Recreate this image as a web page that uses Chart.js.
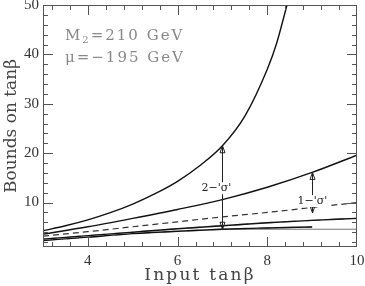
<!DOCTYPE html>
<html>
<head>
<meta charset="utf-8">
<script src="https://cdn.jsdelivr.net/npm/chart.js@4.4.1/dist/chart.umd.min.js"></script>
<style>
  html, body { margin: 0; padding: 0; background: #fff; }
  #wrap { width: 365px; height: 286px; }
</style>
</head>
<body>
<div id="wrap"><canvas id="boundsChart"></canvas></div>
<script>
// Data
const xInput = [3, 4, 5, 6, 7, 8, 9, 10];
const inputTanb = [3.2, 4.1, 5.1, 6.1, 7.1, 8.0, 9.0, 10.0];
const upper1 = [3.6, 5.1, 6.8, 8.6, 10.6, 13.1, 16.1, 19.6];
const lower1 = [2.6, 3.3, 4.0, 4.7, 5.3, 5.9, 6.4, 6.8];
const xUpper2 = [3, 3.5, 4, 4.5, 5, 5.5, 6, 6.5, 7, 7.5, 8, 8.2, 8.44];
const upper2 = [4.3, 5.3, 6.5, 7.95, 9.7, 11.8, 14.3, 17.5, 21.5, 27.5, 37, 42, 50];
const xLower2 = [3, 4, 5, 6, 7, 8, 9];
const lower2 = [2.3, 3.0, 3.7, 4.2, 4.6, 4.85, 5.05];
const xFloor = [7, 10];
const floorVals = [4.6, 4.6];

const xTicks = [4, 6, 8, 10];
const yTicks = [10, 20, 30, 40, 50];

// error arrows
const arrowX = [7, 9];
const arrowTop = [21.5, 16.1];
const arrowBottom = [4.6, 7.9];
const arrowLabels = ["2\u2212'\u03C3'", "1\u2212'\u03C3'"];
const arrowLabelY = [12.9, 10.3];

const pts = (xs, ys) => xs.map((x, i) => ({ x, y: ys[i] }));

function line(data, color, width, dash) {
  return {
    data, borderColor: color, borderWidth: width, borderDash: dash || [],
    pointRadius: 0, fill: false, showLine: true, cubicInterpolationMode: 'monotone'
  };
}

// Frame, inward ticks, titles and annotations
const decor = {
  id: 'decor',
  afterDatasetsDraw(chart) {
    const { ctx, chartArea: a, scales: { x, y } } = chart;
    ctx.save();
    ctx.strokeStyle = '#555';
    ctx.lineWidth = 1;
    ctx.strokeRect(a.left + 0.5, a.top + 0.5, a.right - a.left - 1, a.bottom - a.top - 1);

    ctx.beginPath();
    for (let m = 2; m <= 10; m += 2) {
      for (let k = 0; k < 5; k++) {
        const v = m + k * 0.4;
        if (v <= 3 || v >= 10) continue;
        const px = Math.round(x.getPixelForValue(v)) + 0.5;
        const len = k === 0 ? 10 : 5;
        ctx.moveTo(px, a.bottom); ctx.lineTo(px, a.bottom - len);
        ctx.moveTo(px, a.top); ctx.lineTo(px, a.top + len);
      }
    }
    for (let v = 2; v < 50; v += 2) {
      const py = Math.round(y.getPixelForValue(v)) + 0.5;
      const len = v % 10 === 0 ? 10 : 5;
      ctx.moveTo(a.left, py); ctx.lineTo(a.left + len, py);
      ctx.moveTo(a.right, py); ctx.lineTo(a.right - len, py);
    }
    ctx.stroke();

    // arrows
    ctx.strokeStyle = '#222';
    ctx.fillStyle = '#222';
    arrowX.forEach((xv, i) => {
      const px = Math.round(x.getPixelForValue(xv)) + 0.5;
      const pt = y.getPixelForValue(arrowTop[i]);
      const pb = y.getPixelForValue(arrowBottom[i]);
      ctx.beginPath();
      ctx.moveTo(px, pt); ctx.lineTo(px, pb);
      ctx.stroke();
      ctx.beginPath();
      ctx.moveTo(px, pt); ctx.lineTo(px - 2.5, pt + 7); ctx.lineTo(px + 2.5, pt + 7); ctx.closePath();
      ctx.moveTo(px, pb); ctx.lineTo(px - 2.5, pb - 7); ctx.lineTo(px + 2.5, pb - 7); ctx.closePath();
      ctx.stroke();

      ctx.font = '11px "DejaVu Serif"';
      ctx.textAlign = 'center';
      ctx.textBaseline = 'middle';
      const ly = y.getPixelForValue(arrowLabelY[i]);
      const lx = px - (i === 0 ? 6 : 0);
      const w = ctx.measureText(arrowLabels[i]).width;
      ctx.fillStyle = '#fff';
      ctx.fillRect(lx - w / 2 - 1, ly - 6, w + 2, 12);
      ctx.fillStyle = '#222';
      ctx.fillText(arrowLabels[i], lx, ly);
    });

    // parameter text
    ctx.fillStyle = '#888';
    ctx.textAlign = 'left';
    ctx.textBaseline = 'alphabetic';
    ctx.letterSpacing = '2px';
    const tx = x.getPixelForValue(3.49);
    const b1 = y.getPixelForValue(42.9);
    const b2 = y.getPixelForValue(38.5);
    ctx.font = '15px "DejaVu Serif"';
    ctx.fillText('M', tx, b1);
    let cx = tx + ctx.measureText('M').width;
    ctx.font = '10px "DejaVu Serif"';
    ctx.fillText('2', cx, b1 + 3);
    cx += ctx.measureText('2').width;
    ctx.font = '15px "DejaVu Serif"';
    ctx.fillText('=210 GeV', cx, b1);
    ctx.fillText('\u03BC=\u2212195 GeV', tx, b2);

    // axis titles
    ctx.fillStyle = '#444';
    ctx.font = '17px "DejaVu Serif"';
    ctx.textAlign = 'center';
    ctx.textBaseline = 'middle';
    ctx.letterSpacing = '2.2px';
    ctx.fillText('Input tan\u03B2', (a.left + a.right) / 2, 276);
    ctx.letterSpacing = '0px';
    ctx.translate(12, (a.top + a.bottom) / 2);
    ctx.rotate(-Math.PI / 2);
    ctx.fillText('Bounds on tan\u03B2', 0, 0);
    ctx.restore();
  }
};

const ctx = document.getElementById('boundsChart').getContext('2d');
new Chart(ctx, {
  type: 'scatter',
  data: {
    datasets: [
      line(pts(xUpper2, upper2), '#111', 1.4),
      line(pts(xInput, upper1), '#111', 1.4),
      line(pts(xInput, inputTanb), '#333', 1.2, [6, 4]),
      line(pts(xInput, lower1), '#111', 1.4),
      line(pts(xInput, lower1), '#999', 1.4, [14, 10]),
      line(pts(xLower2, lower2), '#111', 1.4),
      line(pts(xLower2, lower2), '#999', 1.4, [12, 12]),
      line(pts(xFloor, floorVals), '#777', 1)
    ]
  },
  options: {
    responsive: true,
    maintainAspectRatio: false,
    animation: false,
    devicePixelRatio: 1,
    layout: { padding: { top: 5, right: 8, left: 0, bottom: 0 } },
    plugins: { legend: { display: false }, tooltip: { enabled: false } },
    scales: {
      x: {
        type: 'linear', min: 3, max: 10,
        grid: { display: false, drawTicks: false },
        border: { display: false },
        afterBuildTicks: s => { s.ticks = xTicks.map(v => ({ value: v })); },
        afterFit: s => { s.height = 39; s.paddingLeft = 0; s.paddingRight = 0; },
        ticks: { color: '#333', padding: 5, font: { family: 'Liberation Serif', size: 15 } }
      },
      y: {
        type: 'linear', min: 1, max: 50,
        grid: { display: false, drawTicks: false },
        border: { display: false },
        afterBuildTicks: s => { s.ticks = yTicks.map(v => ({ value: v })); },
        afterFit: s => { s.width = 43; s.paddingTop = 0; s.paddingBottom = 0; },
        ticks: { color: '#333', padding: 4, font: { family: 'Liberation Serif', size: 15 } }
      }
    }
  },
  plugins: [decor]
});
</script>
</body>
</html>
